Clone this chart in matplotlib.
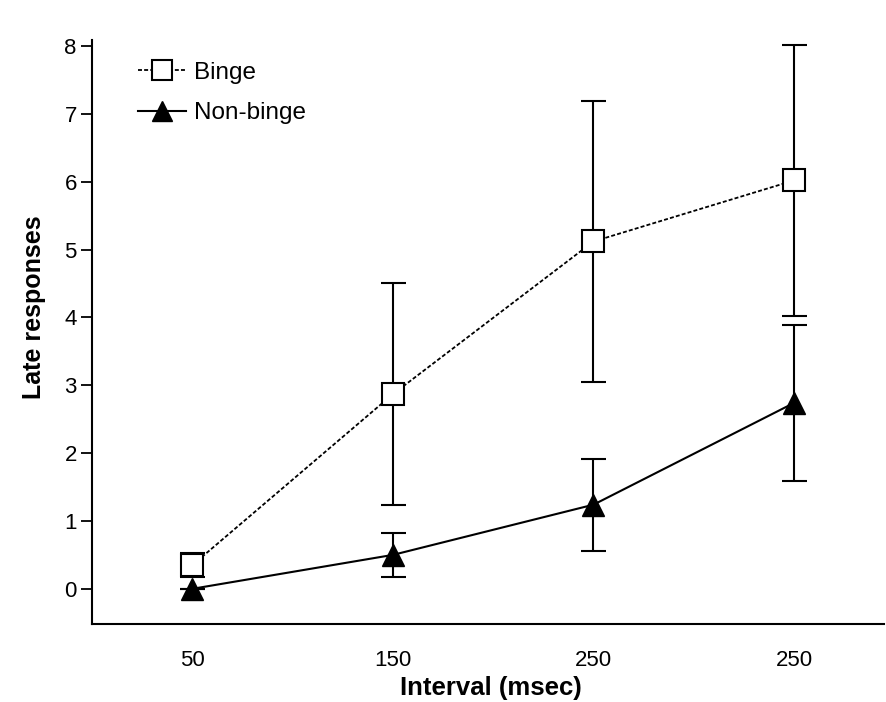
import matplotlib.pyplot as plt
from matplotlib.lines import Line2D

plt.rcParams['font.family'] = ['Liberation Sans', 'DejaVu Sans']

# late responses per interval, mean and error
intervals = ['50', '150', '250', '250']
binge_mean = [0.35, 2.87, 5.12, 6.02]
binge_err = [0.18, 1.64, 2.07, 2.0]
nonbinge_mean = [0.0, 0.5, 1.24, 2.74]
nonbinge_err = [0.0, 0.33, 0.68, 1.15]

x = list(range(len(intervals)))
dash = (0, (2.2, 1.2))

fig = plt.figure(figsize=(8.86, 7.02), dpi=100)
ax = fig.add_axes([0.104, 0.111, 0.894, 0.832])

ax.errorbar(x, binge_mean, yerr=binge_err, color='black', ls=dash,
            lw=1.3, marker='s', ms=16, mfc='white', mec='black', mew=1.5,
            ecolor='black', elinewidth=1.5, capsize=9, capthick=1.5,
            zorder=3)
ax.errorbar(x, nonbinge_mean, yerr=nonbinge_err, color='black', ls='-',
            lw=1.5, marker='^', ms=16, mfc='black', mec='black',
            ecolor='black', elinewidth=1.5, capsize=9, capthick=1.5,
            zorder=2)

ax.set_xlim(-0.5, 3.45)
ax.set_ylim(-0.52, 8.09)
ax.set_yticks(range(0, 9))
ax.set_xticks(x)
ax.set_xticklabels(intervals)
ax.tick_params(axis='x', length=0, pad=19, labelsize=16)
ax.tick_params(axis='y', length=8, width=1.3, labelsize=16, pad=3)
ax.spines['top'].set_visible(False)
ax.spines['right'].set_visible(False)
ax.spines['left'].set_linewidth(1.5)
ax.spines['bottom'].set_linewidth(1.5)

ax.set_xlabel('Interval (msec)', fontsize=18.5, fontweight='bold')
ax.xaxis.set_label_coords(0.503, -0.11)
ax.xaxis.label.set_va('center')
ax.set_ylabel('Late responses', fontsize=18, fontweight='bold')
ax.yaxis.set_label_coords(-0.074, 0.543)
ax.yaxis.label.set_va('center')

handles = [
    Line2D([], [], color='black', ls=dash, lw=1.3, marker='s', ms=14,
           mfc='white', mec='black', mew=1.5),
    Line2D([], [], color='black', ls='-', lw=1.5, marker='^', ms=14,
           mfc='black', mec='black'),
]
ax.legend(handles, ['Binge', 'Non-binge'], loc='upper left',
          bbox_to_anchor=(0.03, 1.0), frameon=False, fontsize=17.5,
          handlelength=2.0, handletextpad=0.3, labelspacing=0.75)

fig.savefig('out.png', dpi=100)
